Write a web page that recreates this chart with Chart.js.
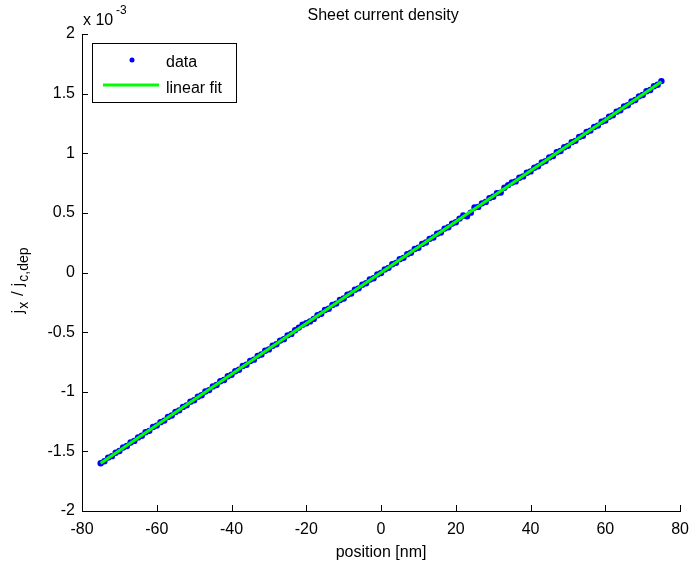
<!DOCTYPE html>
<html>
<head>
<meta charset="utf-8">
<script src="https://cdn.jsdelivr.net/npm/chart.js@4/dist/chart.umd.min.js"></script>
<style>
  html, body { margin: 0; padding: 0; background: #fff; }
  canvas { display: block; }
</style>
</head>
<body>
<canvas id="grafico" width="698" height="567"></canvas>
<script>
// Datos --------------------------------------
// posición [nm]
const posicion = [
  -75, -74, -73, -72, -71, -70, -69, -68, -67, -66, -65, -64, -63, -62, -61,
  -60, -59, -58, -57, -56, -55, -54, -53, -52, -51, -50, -49, -48, -47, -46,
  -45, -44, -43, -42, -41, -40, -39, -38, -37, -36, -35, -34, -33, -32, -31,
  -30, -29, -28, -27, -26, -25, -24, -23, -22, -21, -20, -19, -18, -17, -16,
  -15, -14, -13, -12, -11, -10, -9, -8, -7, -6, -5, -4, -3, -2, -1,
  0, 1, 2, 3, 4, 5, 6, 7, 8, 9, 10, 11, 12, 13, 14,
  15, 16, 17, 18, 19, 20, 21, 22, 23, 24, 25, 26, 27, 28, 29,
  30, 31, 32, 33, 34, 35, 36, 37, 38, 39, 40, 41, 42, 43, 44,
  45, 46, 47, 48, 49, 50, 51, 52, 53, 54, 55, 56, 57, 58, 59,
  60, 61, 62, 63, 64, 65, 66, 67, 68, 69, 70, 71, 72, 73, 74, 75
];

// j_x / j_c,dep  (x 10^-3)
const densidad = [
  -1.600, -1.583, -1.552, -1.540, -1.512, -1.497, -1.468, -1.455, -1.425, -1.412, -1.383, -1.369, -1.340, -1.328, -1.296,
  -1.284, -1.255, -1.242, -1.211, -1.199, -1.170, -1.156, -1.127, -1.114, -1.083, -1.071, -1.041, -1.029, -0.998, -0.986,
  -0.955, -0.944, -0.912, -0.901, -0.870, -0.858, -0.828, -0.816, -0.784, -0.773, -0.742, -0.731, -0.699, -0.688, -0.656,
  -0.645, -0.614, -0.602, -0.571, -0.559, -0.527, -0.515, -0.484, -0.462, -0.438, -0.425, -0.410, -0.389, -0.358, -0.346,
  -0.315, -0.304, -0.272, -0.261, -0.230, -0.218, -0.187, -0.176, -0.144, -0.133, -0.102, -0.090, -0.059, -0.048, -0.016,
  -0.004, 0.026, 0.039, 0.069, 0.081, 0.112, 0.123, 0.154, 0.166, 0.197, 0.208, 0.240, 0.251, 0.282, 0.294,
  0.325, 0.336, 0.368, 0.379, 0.410, 0.422, 0.452, 0.478, 0.472, 0.502, 0.545, 0.550, 0.580, 0.592, 0.624,
  0.635, 0.666, 0.670, 0.711, 0.733, 0.755, 0.764, 0.794, 0.806, 0.837, 0.848, 0.879, 0.891, 0.922, 0.934,
  0.965, 0.976, 1.008, 1.019, 1.050, 1.062, 1.093, 1.104, 1.136, 1.147, 1.178, 1.190, 1.221, 1.232, 1.264,
  1.275, 1.306, 1.318, 1.349, 1.360, 1.392, 1.403, 1.434, 1.446, 1.477, 1.488, 1.520, 1.531, 1.562, 1.574, 1.605
];

// Ajuste lineal (extremos)
const ajusteX = [-75, 75];
const ajusteY = [-1.6, 1.6];

// Ticks
const ticksX = [-80, -60, -40, -20, 0, 20, 40, 60, 80];
const ticksY = [-2, -1.5, -1, -0.5, 0, 0.5, 1, 1.5, 2];

const fuente = '"Liberation Sans", Arial, sans-serif';

// Plugin: ticks hacia dentro, título, etiquetas, leyenda ---------
const estiloMatlab = {
  id: 'estiloMatlab',
  afterDraw(chart) {
    const ctx = chart.ctx;
    const sx = chart.scales.x;
    const sy = chart.scales.y;
    const area = chart.chartArea;
    const largo = 6;

    ctx.save();
    ctx.strokeStyle = '#000';
    ctx.lineWidth = 1;
    ctx.beginPath();
    for (let v of ticksX) {
      const px = Math.round(sx.getPixelForValue(v)) + 0.5;
      ctx.moveTo(px, area.bottom);
      ctx.lineTo(px, area.bottom - largo);
    }
    for (let v of ticksY) {
      const py = Math.round(sy.getPixelForValue(v)) + 0.5;
      ctx.moveTo(area.left, py);
      ctx.lineTo(area.left + largo, py);
    }
    ctx.stroke();

    ctx.fillStyle = '#000';
    ctx.textBaseline = 'alphabetic';

    // título
    ctx.font = '16px ' + fuente;
    ctx.textAlign = 'center';
    ctx.fillText('Sheet current density', (area.left + area.right) / 2 + 2, 20);

    // etiqueta eje x
    ctx.fillText('position [nm]', (area.left + area.right) / 2, 557);

    // multiplicador x 10^-3
    ctx.textAlign = 'left';
    ctx.fillText('x 10', 83, 25);
    ctx.font = '12px ' + fuente;
    ctx.fillText('-3', 116, 14);

    // etiqueta eje y: j_x / j_c,dep
    const partes = [
      ['j', 17, 0], ['x', 14, 5], [' / j', 17, 0], ['c,dep', 14, 5]
    ];
    let total = 0;
    for (let p of partes) {
      ctx.font = p[1] + 'px ' + fuente;
      total += ctx.measureText(p[0]).width + 1;
    }
    ctx.translate(23, 280);
    ctx.rotate(-Math.PI / 2);
    let cx = -total / 2;
    for (let p of partes) {
      ctx.font = p[1] + 'px ' + fuente;
      ctx.fillText(p[0], cx, p[2]);
      cx += ctx.measureText(p[0]).width + 1;
    }
    ctx.setTransform(1, 0, 0, 1, 0, 0);

    // leyenda
    ctx.fillStyle = '#fff';
    ctx.fillRect(92.5, 43.5, 144, 59);
    ctx.strokeStyle = '#000';
    ctx.strokeRect(92.5, 43.5, 144, 59);

    ctx.fillStyle = '#0000ff';
    ctx.beginPath();
    ctx.arc(132, 60, 2.5, 0, Math.PI * 2);
    ctx.fill();

    ctx.strokeStyle = '#00ff00';
    ctx.lineWidth = 3;
    ctx.beginPath();
    ctx.moveTo(103, 85);
    ctx.lineTo(159, 85);
    ctx.stroke();

    ctx.fillStyle = '#000';
    ctx.font = '16px ' + fuente;
    ctx.fillText('data', 166, 67);
    ctx.fillText('linear fit', 166, 93);
    ctx.restore();
  }
};

const ctx = document.getElementById('grafico');

new Chart(ctx, {
  type: 'scatter',
  data: {
    datasets: [
      {
        label: 'linear fit',
        data: ajusteX.map((x, i) => ({ x: x, y: ajusteY[i] })),
        showLine: true,
        borderColor: '#00ff00',
        borderWidth: 3,
        pointRadius: 0,
        order: 0
      },
      {
        label: 'data',
        data: posicion.map((x, i) => ({ x: x, y: densidad[i] })),
        backgroundColor: '#0000ff',
        borderColor: '#0000ff',
        borderWidth: 0,
        pointRadius: 3.2,
        order: 1
      }
    ]
  },
  options: {
    responsive: false,
    animation: false,
    devicePixelRatio: 1,
    layout: { padding: { left: 0, top: 34, right: 11, bottom: 0 } },
    plugins: {
      legend: { display: false },
      tooltip: { enabled: false },
      title: { display: false }
    },
    scales: {
      x: {
        type: 'linear',
        min: -80,
        max: 80,
        afterFit: (s) => { s.height = 56; },
        afterBuildTicks: (s) => { s.ticks = ticksX.map(v => ({ value: v })); },
        grid: { display: false, drawTicks: false },
        border: { display: true, color: '#000', width: 1 },
        ticks: {
          color: '#000',
          font: { family: fuente, size: 16 },
          padding: 9,
          maxRotation: 0,
          callback: (v) => String(v)
        }
      },
      y: {
        type: 'linear',
        min: -2,
        max: 2,
        afterFit: (s) => { s.width = 82; },
        afterBuildTicks: (s) => { s.ticks = ticksY.map(v => ({ value: v })); },
        grid: { display: false, drawTicks: false },
        border: { display: true, color: '#000', width: 1 },
        ticks: {
          color: '#000',
          font: { family: fuente, size: 16 },
          padding: 7,
          callback: (v) => String(v)
        }
      }
    }
  },
  plugins: [estiloMatlab]
});
</script>
</body>
</html>
